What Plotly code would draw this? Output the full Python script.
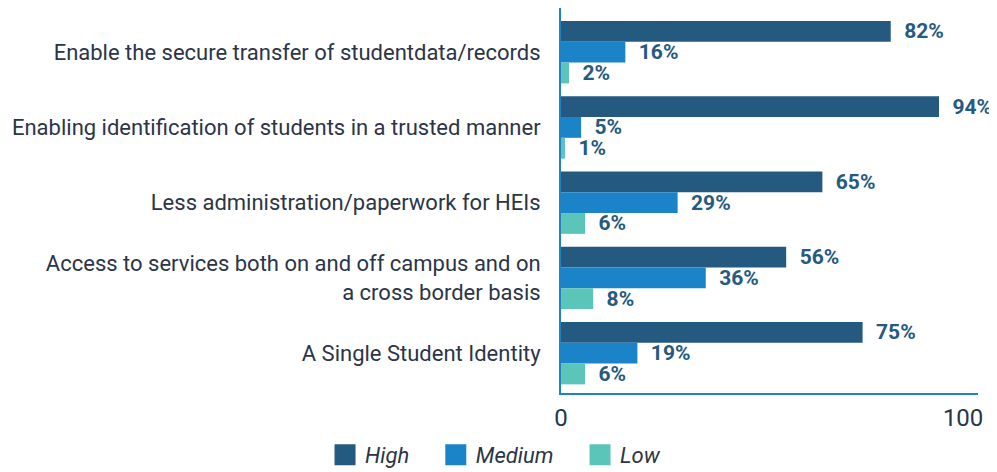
import plotly.graph_objects as go

# survey categories, top to bottom
categories = [
    "Enable the secure transfer of studentdata/records",
    "Enabling identification of students in a trusted manner",
    "Less administration/paperwork for HEIs",
    "Access to services both on and off campus and on<br>a cross border basis",
    "A Single Student Identity",
]
high = [82, 94, 65, 56, 75]
medium = [16, 5, 29, 36, 19]
low = [2, 1, 6, 8, 6]

series = [
    ("High", high, "#255a80"),
    ("Medium", medium, "#1b83c7"),
    ("Low", low, "#5cc5b9"),
]

font_main = "Roboto, sans-serif"
text_col = "#2b3547"

fig = go.Figure()
for name, vals, col in series:
    # bars (legend drawn with dummy markers so the squares can be bigger)
    fig.add_trace(go.Bar(
        y=categories, x=vals, orientation="h", name=name,
        marker=dict(color=col, line=dict(width=0)),
        texttemplate="\u00a0\u00a0%{x}%", textposition="outside",
        textfont=dict(family=font_main, size=21, color="#255a80", weight="bold"),
        constraintext="none", cliponaxis=False, showlegend=False,
    ))
for i, (name, vals, col) in enumerate(series):
    pad = "\u00a0" * 4 if i < len(series) - 1 else ""
    fig.add_trace(go.Scatter(
        x=[None], y=[None], mode="markers", name=name + pad,
        marker=dict(symbol="square", size=16, color=col, line=dict(color=col, width=5)),
    ))

# the page body has an 8px margin, so the figure is a little smaller than the window
fig.update_layout(
    width=989, height=464,
    margin=dict(l=553, r=19, t=0, b=79, autoexpand=False),
    barmode="group", bargap=0.17, bargroupgap=0,
    plot_bgcolor="white", paper_bgcolor="white",
    font=dict(family=font_main, color=text_col),
    legend=dict(
        orientation="h", x=-0.157, xanchor="center", y=-0.1065, yanchor="top",
        font=dict(size=22, style="italic", color=text_col),
        itemwidth=30, tracegroupgap=0,
    ),
)
fig.update_xaxes(
    range=[0, 103.7], tickvals=[0, 100], ticktext=["0", "100"],
    showgrid=False, zeroline=False, showline=True, linecolor="#1b83c7", linewidth=2,
    ticks="", ticklabelstandoff=2, tickfont=dict(size=24, color=text_col),
    automargin=False,
)
fig.update_yaxes(
    range=[4.53, -0.587], categoryorder="array", categoryarray=categories,
    showgrid=False, zeroline=False, showline=True, linecolor="#1b83c7", linewidth=2,
    ticks="", ticklabelstandoff=14, tickfont=dict(size=22, color=text_col),
    automargin=False,
)

fig.write_html("out.html")
